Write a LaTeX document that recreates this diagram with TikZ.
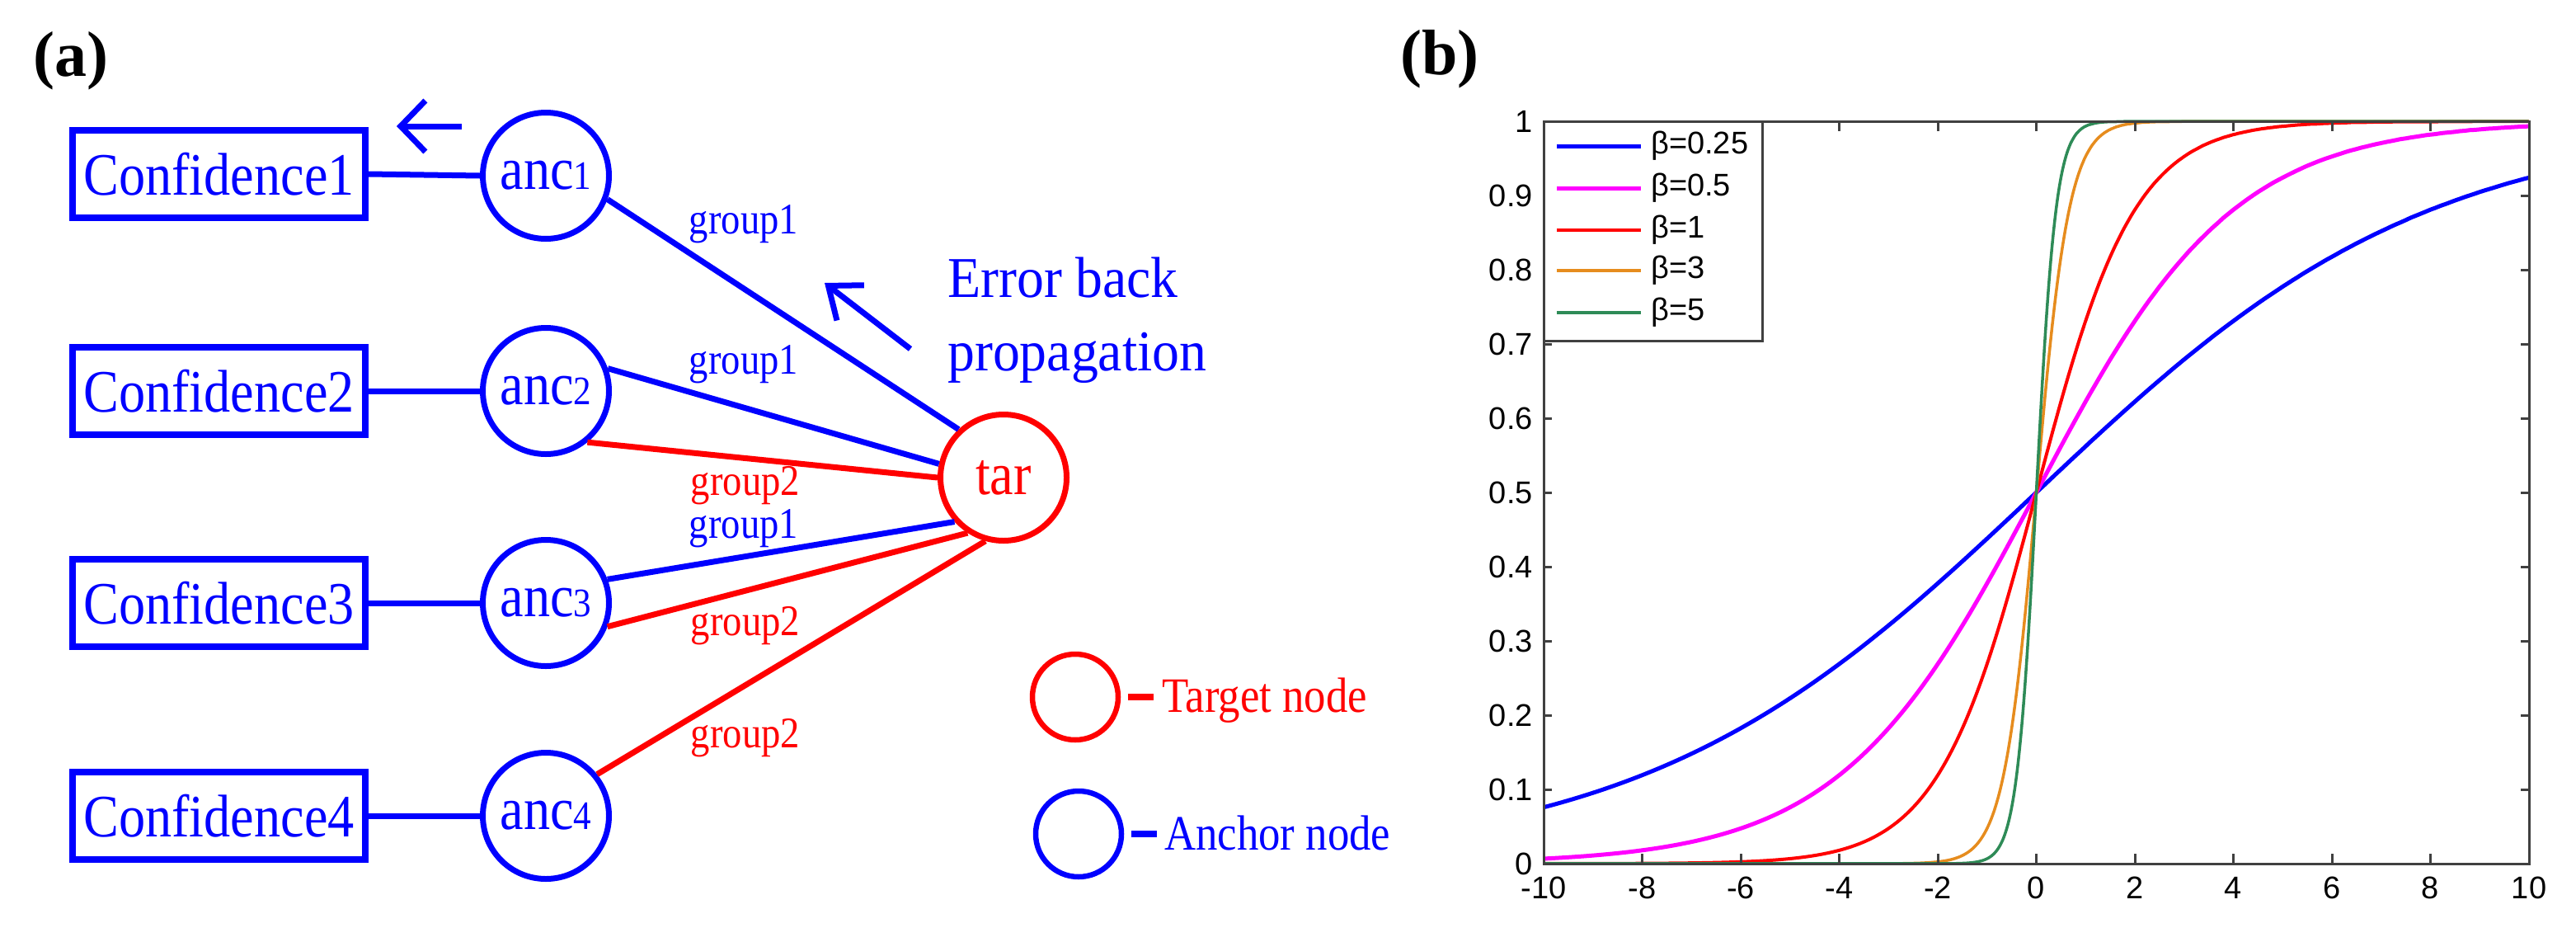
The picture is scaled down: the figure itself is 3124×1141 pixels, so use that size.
\documentclass[tikz,border=0pt]{standalone}
\usepackage{fontspec}
\setmainfont{Liberation Serif}
\newfontfamily\condA[FakeStretch=0.88]{Liberation Serif}
\newfontfamily\condB[FakeStretch=0.94]{Liberation Serif}
\newfontfamily\plotfont{Liberation Sans}
\usetikzlibrary{arrows.meta,calc}
\definecolor{pblue}{RGB}{0,0,255}
\definecolor{pred}{RGB}{255,0,0}
\definecolor{pmag}{RGB}{255,0,255}
\definecolor{porange}{RGB}{230,140,30}
\definecolor{pgreen}{RGB}{46,139,87}
\definecolor{axgray}{RGB}{64,64,64}
\begin{document}
\begin{tikzpicture}[x=1pt,y=-1pt,
  declare function={sig(\t)=1/(1+exp(-max(-9,min(9,\t))));},
  confbox/.style={draw=pblue,line width=8pt,minimum width=355pt,minimum height=106pt,inner sep=0pt,text=pblue,font=\condA\fontsize{73}{80}\selectfont},
  ancnode/.style={circle,draw=pblue,line width=7pt,minimum size=153pt,inner sep=0pt,text=pblue,font=\condA\fontsize{73}{80}\selectfont},
  tarnode/.style={ancnode,draw=pred,text=pred},
  bedge/.style={pblue,line width=7pt},
  redge/.style={pred,line width=7pt},
  glabel/.style={anchor=base,inner sep=0pt,font=\condA\fontsize{53}{60}\selectfont},
  legcirc/.style={circle,line width=6.5pt,minimum size=104pt,inner sep=0pt},
  legtxt/.style={anchor=base west,inner sep=0pt,font=\condA\fontsize{60}{66}\selectfont},
  panel/.style={anchor=base west,inner sep=0pt,font=\bfseries\fontsize{78}{80}\selectfont},
  axisline/.style={draw=axgray,line width=3pt},
  ticklab/.style={inner sep=0pt,font=\plotfont\fontsize{38}{40}\selectfont},
  curve/.style={line join=round}
]
\useasboundingbox (0,0) rectangle (3124,1141);

% ---------------- panel (a) ----------------
\node[panel] (pa) at (40,92) {(a)};

\node[confbox] (c1) at (265.5,211) {Confidence1};
\node[confbox] (c2) at (265.5,474) {Confidence2};
\node[confbox] (c3) at (265.5,731) {Confidence3};
\node[confbox] (c4) at (265.5,989) {Confidence4};

\node[ancnode] (a1) at (662,213) {anc{\fontsize{49}{50}\selectfont 1}};
\node[ancnode] (a2) at (662,474) {anc{\fontsize{49}{50}\selectfont 2}};
\node[ancnode] (a3) at (662,731) {anc{\fontsize{49}{50}\selectfont 3}};
\node[ancnode] (a4) at (662,989) {anc{\fontsize{49}{50}\selectfont 4}};

\node[tarnode] (tar) at (1217,579) {tar};

\draw[bedge] (c1.east) -- (a1.west);
\draw[bedge] (c2.east) -- (a2.west);
\draw[bedge] (c3.east) -- (a3.west);
\draw[bedge] (c4.east) -- (a4.west);

\draw[bedge] (a1.-21) -- (tar.133);
\draw[bedge] (a2.20) -- (tar.168);
\draw[redge] (a2.-51) -- (tar.180);
\draw[bedge] (a3.21) -- (tar.222);
\draw[redge] (a3.-21) -- (tar.237);
\draw[redge] (a4.39) -- (tar.254);

\node[glabel,text=pblue] (g1) at (902,283) {group1};
\node[glabel,text=pblue] (g2) at (902,453) {group1};
\node[glabel,text=pred]  (g3) at (904,600) {group2};
\node[glabel,text=pblue] (g4) at (902,652) {group1};
\node[glabel,text=pred]  (g5) at (904,770) {group2};
\node[glabel,text=pred]  (g6) at (904,906) {group2};

% small back-propagation arrow near anc1
\coordinate (ba1) at (560,153);
\coordinate (ba2) at (481,153);
\draw[bedge,-{Straight Barb[length=30pt,width=62pt]}] (ba1) -- (ba2);

% error back propagation
\coordinate (ea1) at (1104,423);
\coordinate (ea2) at (1000,343);
\draw[bedge,-{Straight Barb[length=34pt,width=54pt]}] (ea1) -- (ea2);
\node[anchor=base west,inner sep=0pt,text=pblue,font=\condB\fontsize{70}{80}\selectfont] (eb1) at (1149,360) {Error back};
\node[anchor=base west,inner sep=0pt,text=pblue,font=\condB\fontsize{70}{80}\selectfont] (eb2) at (1149,449) {propagation};

% legend of panel (a)
\node[legcirc,draw=pred] (lt) at (1304,845) {};
\node[legtxt,text=pred] (ltt) at (1409,863) {Target node};
\draw[pred,line width=8pt] ($(lt.east)+(9,0)$) -- ($(lt.east -| ltt.west)+(-10,0)$);
\node[legcirc,draw=pblue] (la) at (1308,1011) {};
\node[legtxt,text=pblue] (lat) at (1412,1030) {Anchor node};
\draw[pblue,line width=8pt] ($(la.east)+(9,0)$) -- ($(la.east -| lat.west)+(-9,0)$);

% ---------------- panel (b) ----------------
\node[panel] (pb) at (1698,90) {(b)};

\begin{scope}[shift={(2469.5,1047)},xscale=59.75,yscale=-900]
  \draw[curve,pblue,line width=5pt] plot[domain=-10:10,samples=201,smooth] (\x,{sig(0.25*\x)});
  \draw[curve,pmag,line width=5pt] plot[domain=-10:10,samples=201,smooth] (\x,{sig(0.5*\x)});
  \draw[curve,pred,line width=4pt] plot[domain=-10:10,samples=401,smooth] (\x,{sig(1*\x)});
  \draw[curve,porange,line width=3.5pt] plot[domain=-10:10,samples=801,smooth] (\x,{sig(3*\x)});
  \draw[curve,pgreen,line width=3.5pt] plot[domain=-10:10,samples=801,smooth] (\x,{sig(5*\x)});
\end{scope}

\draw[axisline] (1872,147) rectangle (3067,1047);
\foreach \i in {0,...,10} {
  \pgfmathsetmacro\xx{1872+119.5*\i}
  \pgfmathtruncatemacro\lab{-10+2*\i}
  \draw[axisline] (\xx,1047) -- (\xx,1035);
  \draw[axisline] (\xx,147) -- (\xx,159);
  \node[ticklab,anchor=north] (xl\i) at (\xx,1063) {\lab};
}
\foreach \j/\lab in {0/0,1/0.1,2/0.2,3/0.3,4/0.4,5/0.5,6/0.6,7/0.7,8/0.8,9/0.9,10/1} {
  \pgfmathsetmacro\yy{1047-90*\j}
  \draw[axisline] (1872,\yy) -- (1882,\yy);
  \draw[axisline] (3067,\yy) -- (3057,\yy);
  \node[ticklab,anchor=east] (yl\j) at (1859,\yy) {\lab};
}

% legend of panel (b)
\draw[axisline,fill=white] (1872,147) rectangle (2137,413);
\draw[pblue,line width=5pt] (1888,177) -- (1990,177);
\node[ticklab,anchor=west] (lg1) at (2002,177) {β=0.25};
\draw[pmag,line width=5pt] (1888,228) -- (1990,228);
\node[ticklab,anchor=west] (lg2) at (2002,228) {β=0.5};
\draw[pred,line width=4pt] (1888,279) -- (1990,279);
\node[ticklab,anchor=west] (lg3) at (2002,279) {β=1};
\draw[porange,line width=4pt] (1888,328) -- (1990,328);
\node[ticklab,anchor=west] (lg4) at (2002,328) {β=3};
\draw[pgreen,line width=4pt] (1888,379) -- (1990,379);
\node[ticklab,anchor=west] (lg5) at (2002,379) {β=5};
\end{tikzpicture}
\end{document}
